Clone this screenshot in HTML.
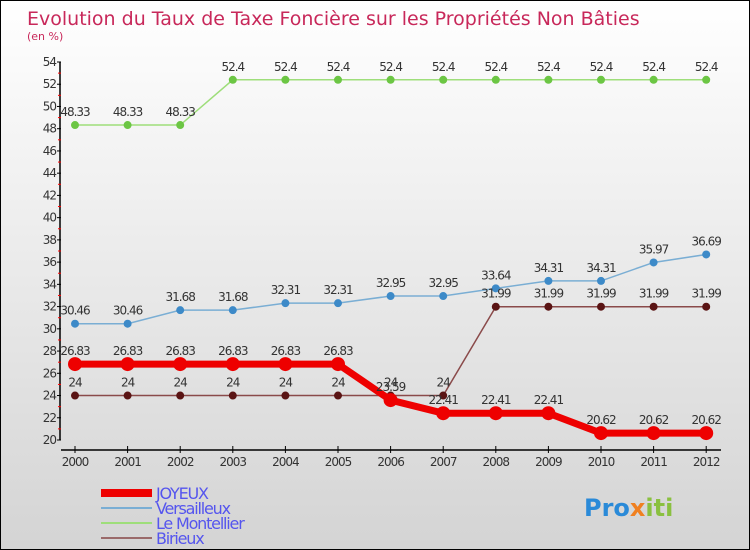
<!DOCTYPE html>
<html><head><meta charset="utf-8"><style>
body{margin:0}
#c{width:750px;height:550px;position:relative;box-sizing:border-box;border:1px solid #000;background:linear-gradient(#fff,#d4d4d4);font-family:"DejaVu Sans","Liberation Sans",sans-serif}
</style></head><body>
<div id="c">
<svg id="s" width="748" height="548" style="position:absolute;left:0;top:0"></svg>
</div>
<script>
const years=["2000","2001","2002","2003","2004","2005","2006","2007","2008","2009","2010","2011","2012"];
const joyeux=[26.83,26.83,26.83,26.83,26.83,26.83,23.59,22.41,22.41,22.41,20.62,20.62,20.62];
const versailleux=[30.46,30.46,31.68,31.68,32.31,32.31,32.95,32.95,33.64,34.31,34.31,35.97,36.69];
const montellier=[48.33,48.33,48.33,52.4,52.4,52.4,52.4,52.4,52.4,52.4,52.4,52.4,52.4];
const birieux=[24,24,24,24,24,24,24,24,31.99,31.99,31.99,31.99,31.99];
const yTicks=[20,22,24,26,28,30,32,34,36,38,40,42,44,46,48,50,52,54];
const NS="http://www.w3.org/2000/svg",s=document.getElementById('s');
function X(i){return 74+i*52.6;}
function Y(v){return 439-(v-20)*(378/34);}
function el(t,a,txt){const e=document.createElementNS(NS,t);for(const k in a)e.setAttribute(k,a[k]);if(txt!==undefined)e.textContent=txt;s.appendChild(e);return e;}
let t=el('text',{x:26,y:24,'font-size':19,fill:'#c8285a'},'Evolution du Taux de Taxe Foncière sur les Propriétés Non Bâties');


t=el('text',{x:26,y:39,'font-size':11,fill:'#c8285a'},'(en %)');


let ax=el('line',{x1:59,y1:Y(54),x2:59,y2:Y(20),stroke:'#000','stroke-width':1.5});


yTicks.forEach(v=>{el('line',{x1:56,x2:60,y1:Y(v),y2:Y(v),stroke:'#000'});
el('line',{x1:57,x2:60,y1:Y(v+1),y2:Y(v+1),stroke:v<54?'#f00':'none'});
const l=el('text',{x:55,y:Y(v)+4,'font-size':12,fill:'#333','text-anchor':'end','letter-spacing':-1},v);

});
ax=el('line',{x1:60,y1:449,x2:720,y2:449,stroke:'#000','stroke-width':1.5});


years.forEach((y,i)=>{el('line',{x1:X(i),x2:X(i),y1:445,y2:452,stroke:'#000'});
const l=el('text',{x:X(i),y:465,'font-size':12,fill:'#333','text-anchor':'middle','letter-spacing':-1},y);

});
function series(d,col,dot,w,r,name){
 const p=el('polyline',{points:d.map((v,i)=>X(i)+','+Y(v)).join(' '),fill:'none',stroke:col,'stroke-width':w});
 
 
 d.forEach((v,i)=>{const c=el('circle',{cx:X(i),cy:Y(v),r:r,fill:dot});
 
 
 const l=el('text',{x:X(i),y:Y(v)-9,'font-size':12,fill:'#333','text-anchor':'middle','letter-spacing':-1},String(v));
 
 });
}
series(montellier,'#9ede7a','#6cc644',1.5,4,'le-montellier');
series(versailleux,'#7aaed4','#3d8ac8',1.5,4,'versailleux');
series(birieux,'#8a4a4a','#5a1414',1.5,4,'birieux');
series(joyeux,'#ee0000','#ee0000',7,7,'joyeux');
const leg=[['JOYEUX','#ee0000',8],['Versailleux','#7aaed4',2],['Le Montellier','#9ede7a',2],['Birieux','#9a6a6a',2]];
leg.forEach((g,i)=>{const y=492+i*15;
 el('line',{x1:100,x2:151,y1:y,y2:y,stroke:g[1],'stroke-width':g[2]});
 const l=el('text',{x:155,y:y+6,'font-size':16,fill:'#5555ee','letter-spacing':-1.2},g[0]);
 
 });
const lg=el('text',{x:583,y:515,'font-size':24,'font-weight':'bold',fill:'#2a8ad8'});


lg.innerHTML='Pro<tspan fill="#f08020">x</tspan><tspan fill="#8ac040">iti</tspan>';
</script>
</body></html>
